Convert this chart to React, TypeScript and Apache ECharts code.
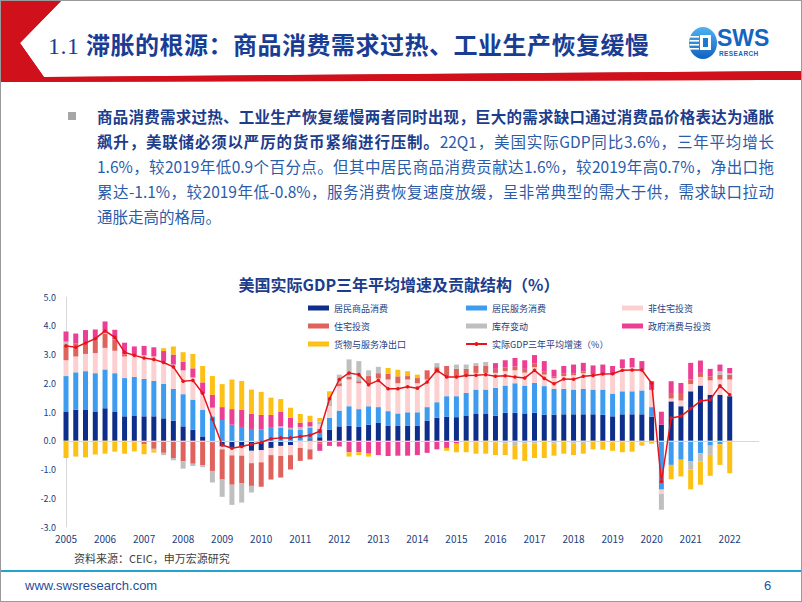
import React, { useEffect, useRef } from "react";
import * as echarts from "echarts";

// ---------- data ----------
const YEARS = [2005, 2006, 2007, 2008, 2009, 2010, 2011, 2012, 2013, 2014, 2015, 2016, 2017, 2018, 2019, 2020, 2021, 2022];
const QUARTERS = ["Q1", "Q2", "Q3", "Q4"];
const CATEGORIES = YEARS.flatMap((y) => QUARTERS.map((q) => `${y}${q}`));

const SERIES_NAMES = ["居民商品消费", "居民服务消费", "非住宅投资", "住宅投资", "库存变动", "政府消费与投资", "货物与服务净出口"];
const LINE_NAME = "实际GDP三年平均增速（%）";

const goods = [1.0, 1.08, 1.07, 1.02, 1.13, 1.0, 0.85, 0.88, 0.85, 0.85, 0.78, 0.7, 0.5, 0.38, 0.15, -0.05, -0.2, -0.26, -0.22, -0.35, -0.33, -0.25, -0.18, -0.15, 0.0, 0.05, 0.12, 0.38, 0.5, 0.52, 0.48, 0.56, 0.62, 0.53, 0.53, 0.53, 0.53, 0.7, 0.8, 0.83, 0.82, 0.88, 0.93, 0.93, 0.87, 0.97, 0.97, 0.95, 0.97, 0.91, 0.91, 0.92, 0.92, 0.92, 0.92, 0.9, 0.85, 0.92, 0.92, 0.92, 0.84, 0.56, 1.37, 1.2, 1.72, 1.92, 1.6, 1.6, 1.55];
const services = [1.25, 1.3, 1.35, 1.33, 1.35, 1.35, 1.33, 1.34, 1.3, 1.23, 1.2, 1.1, 1.12, 1.05, 0.92, 0.85, 0.72, 0.56, 0.48, 0.41, 0.4, 0.45, 0.45, 0.4, 0.38, 0.4, 0.3, 0.42, 0.55, 0.68, 0.62, 0.64, 0.55, 0.5, 0.42, 0.46, 0.46, 0.47, 0.54, 0.72, 0.73, 0.78, 0.85, 0.85, 0.97, 0.95, 1.03, 0.97, 1.04, 0.99, 0.89, 0.88, 0.86, 0.88, 0.86, 0.88, 0.79, 0.8, 0.8, 0.83, 0.33, -1.7, -0.84, -0.66, -0.72, -0.43, -0.17, -0.12, 0.0];
const nonResInvest = [0.55, 0.55, 0.6, 0.7, 0.75, 0.78, 0.75, 0.75, 0.82, 0.85, 0.77, 0.85, 0.83, 0.77, 0.58, 0.3, -0.1, -0.25, -0.3, -0.43, -0.42, -0.25, -0.35, -0.35, -0.25, -0.3, 0.15, 0.4, 0.85, 0.93, 0.9, 0.8, 1.0, 1.1, 1.05, 1.14, 1.01, 0.96, 1.02, 0.69, 0.69, 0.6, 0.58, 0.58, 0.52, 0.5, 0.45, 0.45, 0.55, 0.4, 0.38, 0.45, 0.5, 0.55, 0.5, 0.52, 0.66, 0.81, 0.83, 0.72, 0.6, -0.15, 0.1, 0.2, 0.25, 0.3, 0.5, 0.53, 0.58];
const resInvest = [0.55, 0.45, 0.45, 0.45, 0.5, 0.4, 0.08, -0.05, -0.12, -0.28, -0.42, -0.6, -0.72, -0.8, -0.85, -1.0, -1.05, -1.02, -0.95, -0.79, -0.85, -0.85, -0.75, -0.5, -0.45, -0.35, -0.1, 0.0, 0.1, 0.1, 0.07, 0.25, 0.18, 0.2, 0.24, 0.12, 0.18, 0.32, 0.2, 0.36, 0.26, 0.24, 0.24, 0.24, 0.14, 0.13, 0.13, 0.13, 0.12, 0.12, 0.05, 0.08, 0.07, 0.06, 0.04, -0.03, -0.05, -0.05, -0.03, 0.0, 0.0, 0.0, 0.19, 0.26, 0.16, 0.14, 0.14, 0.17, 0.17];
const inventory = [0.1, 0.0, 0.0, 0.0, 0.05, 0.0, 0.0, 0.0, 0.0, -0.05, -0.08, -0.08, -0.25, -0.08, -0.07, -0.4, -0.6, -0.7, -0.68, -0.23, 0.0, 0.0, 0.05, 0.05, 0.1, 0.05, 0.1, 0.25, 0.3, 0.6, 0.7, 0.2, 0.22, 0.0, 0.0, 0.0, 0.0, 0.0, 0.14, 0.0, 0.15, 0.15, 0.1, 0.14, -0.05, -0.1, -0.15, -0.1, -0.1, 0.0, -0.1, 0.0, -0.1, -0.08, 0.0, 0.0, 0.0, 0.0, 0.0, -0.05, 0.0, -0.55, 0.0, 0.0, -0.28, -0.29, -0.32, 0.12, 0.05];
const government = [0.35, 0.35, 0.38, 0.37, 0.37, 0.33, 0.4, 0.31, 0.33, 0.32, 0.37, 0.35, 0.3, 0.32, 0.38, 0.45, 0.45, 0.54, 0.6, 0.53, 0.5, 0.45, 0.5, 0.35, 0.15, 0.15, -0.25, -0.18, -0.2, -0.4, -0.4, -0.45, -0.5, -0.53, -0.52, -0.52, -0.5, -0.42, -0.3, -0.25, -0.1, 0.0, -0.05, 0.0, 0.2, 0.25, 0.3, 0.3, 0.3, 0.35, 0.24, 0.27, 0.3, 0.3, 0.3, 0.35, 0.3, 0.3, 0.33, 0.3, 0.3, 0.45, 0.41, 0.35, 0.58, 0.43, 0.26, 0.23, 0.18];
const netExports = [-0.6, -0.55, -0.58, -0.48, -0.45, -0.38, -0.45, -0.32, -0.35, -0.08, 0.1, 0.28, 0.33, 0.5, 0.57, 0.65, 0.8, 1.03, 1.0, 0.84, 0.8, 0.6, 0.45, 0.35, 0.3, 0.22, 0.12, 0.27, 0.0, -0.15, -0.1, -0.1, 0.0, 0.2, 0.23, 0.17, 0.12, 0.0, 0.0, -0.1, -0.3, -0.4, -0.4, -0.45, -0.45, -0.4, -0.5, -0.6, -0.5, -0.6, -0.42, -0.45, -0.4, -0.37, -0.3, -0.28, -0.3, -0.35, -0.35, -0.12, -0.1, 0.0, -0.5, -0.58, -0.69, -0.81, -0.73, -0.72, -1.13];
const gdp3yAvg = [3.3, 3.25, 3.4, 3.55, 3.82, 3.6, 3.08, 2.97, 2.88, 2.83, 2.72, 2.57, 2.07, 2.1, 1.65, 0.75, -0.15, -0.26, -0.2, -0.12, -0.05, 0.07, 0.1, 0.1, 0.15, 0.19, 0.33, 1.46, 2.13, 2.36, 2.3, 1.95, 2.1, 1.81, 1.81, 1.88, 1.83, 2.04, 2.45, 2.22, 2.22, 2.27, 2.28, 2.3, 2.24, 2.26, 2.22, 2.18, 2.45, 2.17, 1.98, 2.15, 2.14, 2.24, 2.27, 2.32, 2.33, 2.45, 2.46, 2.46, 2.0, -1.42, 0.79, 0.85, 1.12, 1.38, 1.43, 1.91, 1.6];

const Y_MIN = -3;
const Y_MAX = 5;

const COLORS = ["#0d2e8a", "#3d9cf0", "#fcd0d0", "#e0625d", "#bfbfbf", "#ec3f93", "#fdc116"];
const LINE_COLOR = "#e8141b";

const BODY_LINES: { bold: string; normal: string }[] = [
  { bold: "商品消费需求过热、工业生产恢复缓慢两者同时出现，巨大的需求缺口通过消费品价格表达为通胀", normal: "" },
  { bold: "飙升，美联储必须以严厉的货币紧缩进行压制。", normal: "22Q1，美国实际GDP同比3.6%，三年平均增长" },
  { bold: "", normal: "1.6%，较2019年低0.9个百分点。但其中居民商品消费贡献达1.6%，较2019年高0.7%，净出口拖" },
  { bold: "", normal: "累达-1.1%，较2019年低-0.8%，服务消费恢复速度放缓，呈非常典型的需大于供，需求缺口拉动" },
  { bold: "", normal: "通胀走高的格局。" },
];

const FONT = "'Noto Sans CJK SC', 'Noto Sans', sans-serif";

function buildOption() {
  const barData = [goods, services, nonResInvest, resInvest, inventory, government, netExports];
  const legendText = { color: "#23407f", fontSize: 9, fontFamily: FONT, lineHeight: 12 };
  const legendBase = {
    orient: "vertical" as const,
    top: 297,
    itemWidth: 21,
    itemHeight: 5,
    itemGap: 6,
    textStyle: legendText,
    selectedMode: false,
  };
  const barSeries = barData.map((d, i) => ({
    name: SERIES_NAMES[i],
    type: "bar",
    stack: "total",
    barWidth: 5,
    data: d,
    itemStyle: { color: COLORS[i] },
    ...(i === 0
      ? {
          markLine: {
            silent: true,
            symbol: ["none", "none"],
            label: { show: false },
            lineStyle: { color: "#d9d9d9", width: 1, type: "solid" },
            data: [{ yAxis: 0 }],
          },
        }
      : {}),
  }));
  return {
    animation: false,
    textStyle: { fontFamily: FONT },
    title: {
      text: "美国实际GDP三年平均增速及贡献结构（%）",
      left: 394,
      textAlign: "center",
      top: 271,
      textStyle: { color: "#1c3c8c", fontSize: 16, fontWeight: "bold", fontFamily: FONT },
    },
    legend: [
      {
        ...legendBase,
        left: 303,
        data: [
          { name: SERIES_NAMES[0], icon: "rect" },
          { name: SERIES_NAMES[3], icon: "rect" },
          { name: SERIES_NAMES[6], icon: "rect" },
        ],
      },
      {
        ...legendBase,
        left: 460,
        data: [
          { name: SERIES_NAMES[1], icon: "rect" },
          { name: SERIES_NAMES[4], icon: "rect" },
          { name: LINE_NAME },
        ],
      },
      {
        ...legendBase,
        left: 617,
        data: [
          { name: SERIES_NAMES[2], icon: "rect" },
          { name: SERIES_NAMES[5], icon: "rect" },
        ],
      },
    ],
    grid: { left: 66, right: 43, top: 297, bottom: 75, containLabel: false },
    xAxis: {
      type: "category",
      data: CATEGORIES,
      boundaryGap: false,
      axisLine: { show: false },
      axisTick: { show: false },
      splitLine: { show: false },
      axisLabel: {
        interval: 3,
        margin: 6,
        color: "#23407f",
        fontSize: 10,
        fontFamily: FONT,
        formatter: (v: string) => v.slice(0, 4),
      },
    },
    yAxis: {
      type: "value",
      min: Y_MIN,
      max: Y_MAX,
      interval: 1,
      axisLine: { show: true, lineStyle: { color: "#d9d9d9" } },
      axisTick: { show: false },
      splitLine: { show: false },
      axisLabel: {
        margin: 10,
        color: "#23407f",
        fontSize: 9,
        fontFamily: FONT,
        formatter: (v: number) => v.toFixed(1),
      },
    },
    series: [
      ...barSeries,
      {
        name: LINE_NAME,
        type: "line",
        data: gdp3yAvg,
        symbol: "circle",
        symbolSize: 3.5,
        z: 10,
        lineStyle: { color: LINE_COLOR, width: 1.5 },
        itemStyle: { color: LINE_COLOR },
      },
    ],
  };
}

export default function App() {
  const ref = useRef<HTMLDivElement>(null);
  useEffect(() => {
    document.body.style.margin = "0";
    const chart = echarts.init(ref.current as HTMLDivElement, null, { renderer: "svg" });
    chart.setOption(buildOption() as any);
    return () => chart.dispose();
  }, []);

  const boldColor = "#1c3c8c";
  const normalColor = "#2a5caa";

  return (
    <div
      style={{
        position: "absolute",
        left: 0,
        top: 0,
        width: 802,
        height: 602,
        overflow: "hidden",
        background: "#ffffff",
        fontFamily: FONT,
      }}
    >
      <div ref={ref} style={{ position: "absolute", left: 0, top: 0, width: 802, height: 602 }} />

      {/* header shapes */}
      <svg width={802} height={90} style={{ position: "absolute", left: 0, top: 0 }}>
        <polygon points="0,0 62,0 20,43 44,77 802,71 802,80 0,82" fill="#d0101b" />
        <polygon points="0,0 62,0 20,43 44,77 802,71" fill="none" stroke="#b00010" strokeWidth={0.5} />
        <polygon points="40,0 802,0 802,71 44,77 20,43 62,0" fill="#ffffff" />
        <polygon points="0,0 62,0 20,43 44,77 802,71 802,80 0,82" fill="none" />
      </svg>
      <svg width={802} height={90} style={{ position: "absolute", left: 0, top: 0 }}>
        <polygon points="0,0 62,0 20,43 44,77 802,71 802,80 0,82" fill="#d0101b" />
      </svg>

      {/* title */}
      <div
        style={{
          position: "absolute",
          left: 48,
          top: 29,
          height: 30,
          lineHeight: "30px",
          fontSize: 24,
          fontWeight: 700,
          color: "#1a3d94",
          letterSpacing: 0.5,
          whiteSpace: "nowrap",
        }}
      >
        <span style={{ fontFamily: "'Liberation Serif', 'DejaVu Serif', serif", fontWeight: 400 }}>1.1 </span>
        滞胀的根源：商品消费需求过热、工业生产恢复缓慢
      </div>

      {/* logo */}
      <svg width={30} height={34} style={{ position: "absolute", left: 688, top: 26 }}>
        <defs>
          <linearGradient id="lg" x1="0" y1="0" x2="0" y2="1">
            <stop offset="0" stopColor="#4fb3f2" />
            <stop offset="1" stopColor="#0f62c0" />
          </linearGradient>
        </defs>
        <ellipse cx={15} cy={17} rx={14} ry={16} fill="url(#lg)" />
        <rect x={12} y={9} width={11} height={15} fill="#ffffff" />
        <rect x={15} y={12} width={5} height={9} fill="#1a7ad0" />
        <rect x={2} y={10} width={9} height={1.6} fill="#ffffff" />
        <rect x={1.5} y={14} width={9.5} height={1.6} fill="#ffffff" />
        <rect x={1.5} y={18} width={9.5} height={1.6} fill="#ffffff" />
        <rect x={2} y={22} width={9} height={1.6} fill="#ffffff" />
      </svg>
      <div
        style={{
          position: "absolute",
          left: 717,
          top: 25,
          fontFamily: "'Liberation Sans', Arial, sans-serif",
          fontWeight: 700,
          fontSize: 23,
          lineHeight: "26px",
          color: "#1565c0",
        }}
      >
        SWS
      </div>
      <div
        style={{
          position: "absolute",
          left: 719,
          top: 50,
          fontFamily: "'Liberation Sans', Arial, sans-serif",
          fontWeight: 700,
          fontSize: 6.5,
          lineHeight: "8px",
          letterSpacing: 0.4,
          color: "#1565c0",
        }}
      >
        RESEARCH
      </div>

      {/* bullet */}
      <div style={{ position: "absolute", left: 68, top: 112, width: 8, height: 8, background: "#a6a6a6" }} />
      {BODY_LINES.map((ln, i) => (
        <div
          key={i}
          style={{
            position: "absolute",
            left: 97,
            top: 103.5 + i * 25,
            width: 677,
            height: 25,
            lineHeight: "25px",
            fontSize: 15.5,
            whiteSpace: "nowrap",
            textAlign: "justify",
            textAlignLast: i === BODY_LINES.length - 1 ? "left" : "justify",
          }}
        >
          {ln.bold ? <span style={{ fontWeight: 700, color: boldColor }}>{ln.bold}</span> : null}
          {ln.normal ? <span style={{ color: normalColor }}>{ln.normal}</span> : null}
        </div>
      ))}

      {/* source */}
      <div style={{ position: "absolute", left: 74, top: 550, fontSize: 11, lineHeight: "16px", color: "#404040" }}>
        资料来源：CEIC，申万宏源研究
      </div>

      {/* footer */}
      <div style={{ position: "absolute", left: 0, top: 570, width: 802, height: 2, background: "#23a3cf" }} />
      <div
        style={{
          position: "absolute",
          left: 25,
          top: 578,
          fontSize: 13,
          lineHeight: "16px",
          color: "#1f4e9a",
          fontFamily: "'Liberation Sans', Arial, sans-serif",
        }}
      >
        www.swsresearch.com
      </div>
      <div
        style={{
          position: "absolute",
          left: 764,
          top: 578,
          fontSize: 13,
          lineHeight: "16px",
          color: "#1f4e9a",
          fontFamily: "'Liberation Sans', Arial, sans-serif",
        }}
      >
        6
      </div>

      {/* slide border */}
      <div
        style={{
          position: "absolute",
          left: 0,
          top: 0,
          width: 802,
          height: 602,
          boxSizing: "border-box",
          border: "1px solid #9a9a9a",
          pointerEvents: "none",
        }}
      />
    </div>
  );
}
